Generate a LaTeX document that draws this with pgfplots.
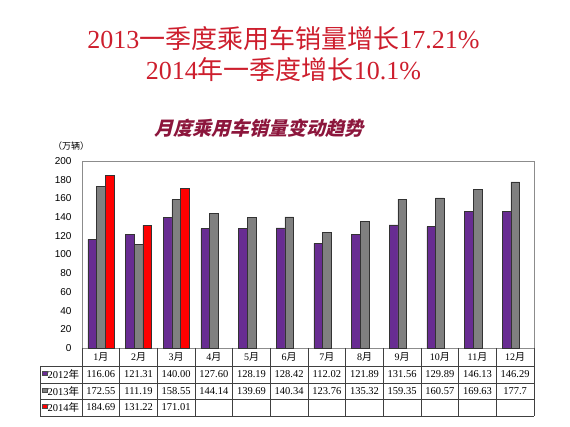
\documentclass[border=0pt]{standalone}
\usepackage{fontspec}
\setmainfont{Liberation Serif}
\newfontfamily\cjk{Noto Sans CJK SC}
\newfontfamily\cjkbi{Noto Sans CJK SC}[FakeSlant=0.25]
\newfontfamily\sansf{Liberation Sans}
\usepackage{pgfplots}
\pgfplotsset{compat=1.18}
\definecolor{tred}{RGB}{205,30,45}
\definecolor{ctitle}{RGB}{140,22,60}
\definecolor{cpurple}{RGB}{104,44,146}
\definecolor{cgray}{RGB}{128,128,128}
\definecolor{cred}{RGB}{255,0,0}
\definecolor{cframe}{RGB}{140,140,140}
\begin{document}
\begin{tikzpicture}[x=1pt,y=1pt]
\useasboundingbox (0,0) rectangle (570,427);
% titles
\node[text=tred, font=\fontsize{26}{30}\selectfont] at (283.5,388) {2013{\cjk 一季度乘用车销量增长}17.21\%};
\node[text=tred, font=\fontsize{26}{30}\selectfont] at (283.5,357) {2014{\cjk 年一季度增长}10.1\%};
\node[text=ctitle, font=\fontsize{19}{22}\selectfont\bfseries] at (259,299) {\cjkbi\bfseries 月度乘用车销量变动趋势};
\node[font=\fontsize{9}{11}\selectfont] at (71,281) {\cjk （万辆）};
\begin{axis}[
  at={(82pt,79pt)}, anchor=south west,
  scale only axis, width=452pt, height=187pt,
  xmin=-0.5, xmax=11.5, ymin=0, ymax=200,
  ytick={0,20,...,200}, xtick=\empty,
  major tick length=0pt,
  axis line style={cframe},
  yticklabel style={font=\sansf\fontsize{10}{12}\selectfont, xshift=-7pt},
  /pgf/number format/assume math mode=true,
  ybar=0pt, bar width=8.7pt,
  clip=false,
]
\addplot[fill=cpurple, draw=black!80, line width=0.5pt] coordinates {
(0,116.06) (1,121.31) (2,140.00) (3,127.60) (4,128.19) (5,128.42)
(6,112.02) (7,121.89) (8,131.56) (9,129.89) (10,146.13) (11,146.29)};
\addplot[fill=cgray, draw=black!80, line width=0.5pt] coordinates {
(0,172.55) (1,111.19) (2,158.55) (3,144.14) (4,139.69) (5,140.34)
(6,123.76) (7,135.32) (8,159.35) (9,160.57) (10,169.63) (11,177.7)};
\addplot[fill=cred, draw=black!80, line width=0.5pt] coordinates {
(0,184.69) (1,131.22) (2,171.01)};
\end{axis}
% data table
\begin{scope}[line width=0.6pt, draw=black!75]
\draw[black!75] (40,61) -- (534,61);
\draw[black!75] (40,44) -- (534,44);
\draw[black!75] (40,28) -- (534,28);
\draw[black!75] (40,11) -- (534,11);
\draw[black!75] (40,61) -- (40,11);
\foreach \k in {0,...,12} {
  \draw[black!75] ({82+\k*37.667},79) -- ({82+\k*37.667},11);
}
\end{scope}
\foreach \m [count=\i from 0] in {1,2,3,4,5,6,7,8,9,10,11,12} {
  \node[font=\fontsize{10}{12}\selectfont] at ({82+(\i+0.5)*37.667},70) {\m{\cjk 月}};
}
\foreach \v [count=\i from 0] in {116.06,121.31,140.00,127.60,128.19,128.42,112.02,121.89,131.56,129.89,146.13,146.29} {
  \node[font=\fontsize{10.5}{12}\selectfont] at ({82+(\i+0.5)*37.667},52.5) {\v};
}
\foreach \v [count=\i from 0] in {172.55,111.19,158.55,144.14,139.69,140.34,123.76,135.32,159.35,160.57,169.63,177.7} {
  \node[font=\fontsize{10.5}{12}\selectfont] at ({82+(\i+0.5)*37.667},36) {\v};
}
\foreach \v [count=\i from 0] in {184.69,131.22,171.01} {
  \node[font=\fontsize{10.5}{12}\selectfont] at ({82+(\i+0.5)*37.667},19.5) {\v};
}
% row labels
\fill[cpurple, draw=black!70, line width=0.3pt] (42,52) rectangle (47,56);
\fill[cgray, draw=black!70, line width=0.3pt] (42,35) rectangle (47,39);
\fill[cred, draw=black!70, line width=0.3pt] (42,19) rectangle (47,23);
\node[anchor=west, inner sep=0pt, font=\fontsize{10.5}{12}\selectfont] at (47.5,52.5) {2012{\cjk 年}};
\node[anchor=west, inner sep=0pt, font=\fontsize{10.5}{12}\selectfont] at (47.5,36) {2013{\cjk 年}};
\node[anchor=west, inner sep=0pt, font=\fontsize{10.5}{12}\selectfont] at (47.5,19.5) {2014{\cjk 年}};
\end{tikzpicture}
\end{document}
